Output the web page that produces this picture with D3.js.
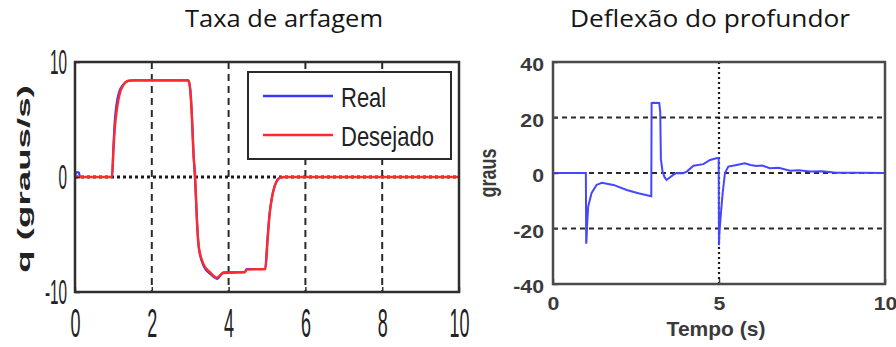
<!DOCTYPE html>
<html>
<head>
<meta charset="utf-8">
<script src="https://cdn.jsdelivr.net/npm/d3@7/dist/d3.min.js"></script>
<style>
  html, body { margin: 0; padding: 0; background: #fff; }
  svg { display: block; }
</style>
</head>
<body>
<svg id="chart" width="896" height="347"></svg>
<script>
// Pitch rate q (deg/s): commanded vs. measured
const qTimes   = [0, 0.96, 1.0, 1.04, 1.10, 1.17, 1.26, 1.39, 1.5, 2.95, 3.0, 3.04, 3.08, 3.13, 3.17, 3.22, 3.35, 3.52, 3.69, 3.86, 4.43, 4.47, 4.96, 5.02, 5.07, 5.13, 5.22, 5.35, 5.45, 10];
const qDesired = [0, 0, 2.3, 4.35, 6.1, 7.3, 8.0, 8.37, 8.4, 8.4, 7.6, 5.5, 2.3, 0, -3.5, -6.0, -7.6, -8.3, -8.75, -8.35, -8.25, -8.05, -8.0, -5.25, -3.2, -1.8, -0.6, -0.05, 0, 0];
const qRealTimes = [0, 0.03, 0.1, 0.13, 0.97, 1.0, 1.03, 1.08, 1.15, 1.25, 1.38, 1.5, 2.96, 3.01, 3.05, 3.09, 3.13, 3.18, 3.23, 3.36, 3.53, 3.7, 3.87, 4.42, 4.47, 4.95, 5.01, 5.06, 5.12, 5.21, 5.34, 5.45, 10];
const qReal      = [0, 0.4, 0.4, 0, 0, 2.6, 4.6, 6.3, 7.4, 8.0, 8.35, 8.4, 8.4, 7.3, 5.0, 1.8, -0.5, -3.9, -6.3, -7.8, -8.45, -8.85, -8.3, -8.3, -8.0, -8.0, -5.5, -3.4, -1.9, -0.7, -0.05, 0, 0];

// Elevator deflection (deg)
const dTimes  = [0, 0.99, 1.0, 1.01, 1.03, 1.06, 1.16, 1.31, 1.47, 1.82, 2.22, 2.57, 2.96, 2.97, 3.0, 3.2, 3.23, 3.25, 3.30, 3.36, 3.42, 3.62, 3.72, 3.92, 4.03, 4.23, 4.53, 4.73, 4.95, 4.99, 5.0, 5.01, 5.05, 5.11, 5.18, 5.28, 5.53, 5.78, 5.95, 6.13, 6.3, 6.53, 6.8, 7.14, 7.4, 7.74, 8.1, 8.54, 9.2, 10];
const dValues = [0, 0, -25.5, -24, -18, -12.1, -7.3, -4.3, -3.5, -4.3, -6.1, -7.3, -8.4, 25.2, 25.3, 25.2, 22, 5, 0.5, -1.5, -2.5, -0.7, 0, -0.1, 0.5, 2.6, 3.2, 4.7, 5.4, 5.4, -26, -22, -15.7, -7.3, 0, 2.3, 2.9, 3.5, 2.9, 2.5, 2.7, 1.7, 1.9, 0.8, 1.0, 0.5, 0.6, 0.1, 0.1, 0];

// Axis ticks and labels
const qXTicks = [0, 2, 4, 6, 8, 10];
const qYTicks = [-10, 0, 10];
const qGridX  = [2, 4, 6, 8];
const qGridY  = [0];
const dXTicks = [0, 5, 10];
const dYTicks = [-40, -20, 0, 20, 40];
const dGridX  = [5];
const dGridY  = [-20, 0, 20];
const legendLabels = ["Real", "Desejado"];
const titles = ["Taxa de arfagem", "Deflexão do profundor"];

// plain hyphen-minus for negative tick labels
const plainFormat = d => String(d);

const svg = d3.select("#chart");
svg.append("rect").attr("width", 896).attr("height", 347).attr("fill", "#fff");

// ---------- left panel: pitch rate ----------
const qx = d3.scaleLinear().domain([0, 10]).range([75, 459]);
const qy = d3.scaleLinear().domain([-10, 10]).range([292, 62]);
const left = svg.append("g");

left.selectAll(".gx").data(qGridX).join("line")
  .attr("x1", d => qx(d)).attr("x2", d => qx(d))
  .attr("y1", qy(10)).attr("y2", qy(-10))
  .attr("stroke", "#2a2a2a").attr("stroke-width", 2).attr("stroke-dasharray", "7,5");
left.selectAll(".gy").data(qGridY).join("line")
  .attr("x1", qx(0)).attr("x2", qx(10))
  .attr("y1", d => qy(d)).attr("y2", d => qy(d))
  .attr("stroke", "#1a1a1a").attr("stroke-width", 3).attr("stroke-dasharray", "3,3");

const qLine = d3.line().curve(d3.curveMonotoneX);
left.append("path")
  .attr("d", qLine(qRealTimes.map((t, i) => [qx(t), qy(qReal[i])])))
  .attr("fill", "none").attr("stroke", "#3a3aff").attr("stroke-width", 2.2);
left.append("path")
  .attr("d", qLine(qTimes.map((t, i) => [qx(t), qy(qDesired[i])])))
  .attr("fill", "none").attr("stroke", "#ff2a2a").attr("stroke-width", 2.4);

// inward ticks
const qAxisB = left.append("g").attr("transform", `translate(0,${qy(-10)})`)
  .call(d3.axisBottom(qx).tickValues(qXTicks).tickSize(-5).tickFormat(plainFormat));
const qAxisL = left.append("g").attr("transform", `translate(${qx(0)},0)`)
  .call(d3.axisLeft(qy).tickValues(qYTicks).tickSize(-5).tickFormat(plainFormat));
[qAxisB, qAxisL].forEach(a => {
  a.select(".domain").remove();
  a.selectAll(".tick line").attr("stroke", "#333").attr("stroke-width", 1.5);
  a.selectAll("text").attr("font-family", "Liberation Sans, Arial, sans-serif")
    .attr("font-size", 18).attr("fill", "#222")
    .attr("x", null).attr("y", null).attr("dy", null)
    .attr("dominant-baseline", "central");
});
qAxisB.selectAll("text").attr("text-anchor", "middle")
  .attr("transform", "translate(0,31) scale(1.0,2.3)");
qAxisL.selectAll("text").attr("text-anchor", "end")
  .attr("transform", "translate(-8,0) scale(0.85,1.9)");

left.append("rect")
  .attr("x", qx(0)).attr("y", qy(10)).attr("width", qx(10) - qx(0)).attr("height", qy(-10) - qy(10))
  .attr("fill", "none").attr("stroke", "#2e2e2e").attr("stroke-width", 2.5);

left.append("text")
  .attr("transform", "translate(24,179) rotate(-90) scale(2.04,1)")
  .attr("text-anchor", "middle").attr("dominant-baseline", "central")
  .attr("font-family", "Liberation Sans, Arial, sans-serif").attr("font-weight", "bold")
  .attr("font-size", 18).attr("fill", "#222")
  .text("q (graus/s)");

// legend
const lg = left.append("g");
lg.append("rect").attr("x", 248).attr("y", 72).attr("width", 203).attr("height", 87)
  .attr("fill", "#fff").attr("stroke", "#2a2a2a").attr("stroke-width", 2);
const legendColors = ["#3a3aff", "#ff2a2a"];
const legendY = [96, 135];
legendLabels.forEach((lab, i) => {
  lg.append("line").attr("x1", 263).attr("x2", 333).attr("y1", legendY[i]).attr("y2", legendY[i])
    .attr("stroke", legendColors[i]).attr("stroke-width", 2.4);
  lg.append("text")
    .attr("transform", `translate(341,${legendY[i] + 1}) scale(1,1.28)`)
    .attr("dominant-baseline", "central")
    .attr("font-family", "Liberation Sans, Arial, sans-serif").attr("font-size", 22).attr("fill", "#222")
    .text(lab);
});

// ---------- right panel: elevator deflection ----------
const dx = d3.scaleLinear().domain([0, 10]).range([553, 885]);
const dy = d3.scaleLinear().domain([-40, 40]).range([284, 62]);
const right = svg.append("g");

right.selectAll(".gy").data(dGridY).join("line")
  .attr("x1", dx(0)).attr("x2", dx(10))
  .attr("y1", d => dy(d)).attr("y2", d => dy(d))
  .attr("stroke", "#2a2a2a").attr("stroke-width", 2).attr("stroke-dasharray", "5,4");
right.selectAll(".gx").data(dGridX).join("line")
  .attr("x1", d => dx(d)).attr("x2", d => dx(d))
  .attr("y1", dy(40)).attr("y2", dy(-40))
  .attr("stroke", "#1a1a1a").attr("stroke-width", 2.2).attr("stroke-dasharray", "2,3");

right.append("path")
  .attr("d", d3.line()(dTimes.map((t, i) => [dx(t), dy(dValues[i])])))
  .attr("fill", "none").attr("stroke", "#4646ff").attr("stroke-width", 2);

const dAxisB = right.append("g").attr("transform", `translate(0,${dy(-40)})`)
  .call(d3.axisBottom(dx).tickValues(dXTicks).tickSize(-5).tickFormat(plainFormat));
const dAxisL = right.append("g").attr("transform", `translate(${dx(0)},0)`)
  .call(d3.axisLeft(dy).tickValues(dYTicks).tickSize(-5).tickFormat(plainFormat));
[dAxisB, dAxisL].forEach(a => {
  a.select(".domain").remove();
  a.selectAll(".tick line").attr("stroke", "#444").attr("stroke-width", 1.5);
  a.selectAll("text").attr("font-family", "Liberation Sans, Arial, sans-serif")
    .attr("font-weight", "bold").attr("font-size", 19).attr("fill", "#3a3a3a")
    .attr("x", null).attr("y", null).attr("dy", null)
    .attr("dominant-baseline", "central");
});
dAxisB.selectAll("text").attr("text-anchor", "middle")
  .attr("transform", "translate(0,19) scale(1.12,1)");
dAxisL.selectAll("text").attr("text-anchor", "end")
  .attr("transform", "translate(-9,2) scale(1.12,1)");

right.append("rect")
  .attr("x", dx(0)).attr("y", dy(40)).attr("width", dx(10) - dx(0)).attr("height", dy(-40) - dy(40))
  .attr("fill", "none").attr("stroke", "#4a4a4a").attr("stroke-width", 2.5);

right.append("text")
  .attr("transform", "translate(488,173) rotate(-90) scale(1,1.3)")
  .attr("text-anchor", "middle").attr("dominant-baseline", "central")
  .attr("font-family", "Liberation Sans, Arial, sans-serif").attr("font-weight", "bold")
  .attr("font-size", 18).attr("fill", "#3a3a3a")
  .text("graus");

right.append("text")
  .attr("x", 716).attr("y", 336).attr("text-anchor", "middle")
  .attr("font-family", "Liberation Sans, Arial, sans-serif").attr("font-weight", "bold")
  .attr("font-size", 21).attr("fill", "#3a3a3a")
  .text("Tempo (s)");

// ---------- titles ----------
const titleX = [284, 710];
const titleW = [198, 280];
titles.forEach((t, i) => {
  svg.append("text")
    .attr("x", titleX[i] - titleW[i] / 2).attr("y", 27)
    .attr("textLength", titleW[i]).attr("lengthAdjust", "spacingAndGlyphs")
    .attr("font-family", "Open Sans, Noto Sans, sans-serif").attr("font-size", 24)
    .attr("fill", "#151515")
    .text(t);
});
</script>
</body>
</html>
